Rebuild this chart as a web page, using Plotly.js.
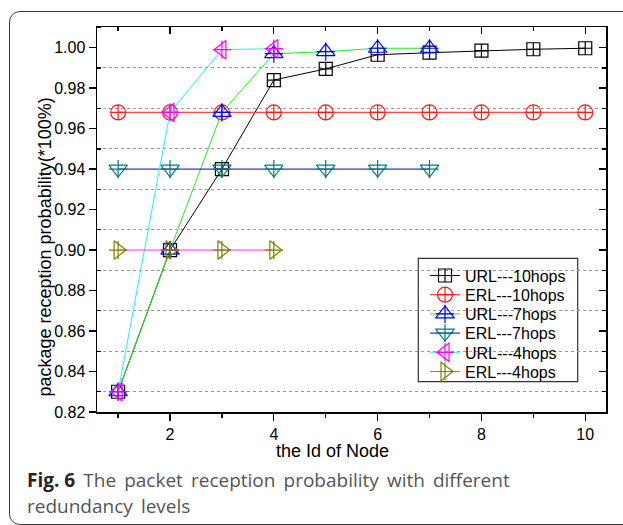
<!DOCTYPE html>
<html>
<head>
<meta charset="utf-8">
<script src="https://cdn.plot.ly/plotly-3.0.1.min.js"></script>
<style>
  html, body { margin: 0; padding: 0; background: #fff; }
  #wrap { position: relative; width: 623px; height: 525px; overflow: hidden; }
  #chart { position: absolute; left: 0; top: 0; width: 623px; height: 525px; }
  #frame {
    position: absolute; left: 9px; top: 11px; width: 640px; height: 512px;
    border: 1.6px solid #3a3a3a; border-radius: 11px; pointer-events: none;
  }
</style>
</head>
<body>
<div id="wrap">
  <div id="chart"></div>
  <div id="frame"></div>
</div>
<script>
// Node ids along the x axis
const nodeIds = [1, 2, 3, 4, 5, 6, 7, 8, 9, 10];

// Packet reception probability per node
const url10 = [0.830, 0.900, 0.940, 0.984, 0.9895, 0.9965, 0.9975, 0.9985, 0.9992, 0.9997];
const erl10 = [0.968, 0.968, 0.968, 0.968, 0.968, 0.968, 0.968, 0.968, 0.968, 0.968];
const url7  = [0.830, 0.900, 0.968, 0.997, 0.998, 0.9997, 0.9997];
const erl7  = [0.940, 0.940, 0.940, 0.940, 0.940, 0.940, 0.940];
const url4  = [0.830, 0.968, 0.999, 0.9995];
const erl4  = [0.900, 0.900, 0.900, 0.900];

const seriesNames = ['URL---10hops', 'ERL---10hops', 'URL---7hops', 'ERL---7hops', 'URL---4hops', 'ERL---4hops'];

const yTickVals = [0.82, 0.84, 0.86, 0.88, 0.90, 0.92, 0.94, 0.96, 0.98, 1.00];
const xTickVals = [2, 4, 6, 8, 10];

// Page geometry (pixels)
const W = 623, H = 525;
const M = { l: 97, r: 17, t: 27, b: 113 };
const PW = W - M.l - M.r, PH = H - M.t - M.b;
const px = p => (p - M.l) / PW;
const py = p => (M.t + PH - p) / PH;

const FONT = 'Liberation Sans, Arial, sans-serif';
const CAPTION_FONT = 'Open Sans, Noto Sans, sans-serif';

// style per series: line colour, marker colour, symbol, size, needs an extra cross
const styles = [
  { line: '#000000', mk: '#000000', sym: 'square-cross-open',   size: 13, cross: false },
  { line: '#ff4a4a', mk: '#ff1a1a', sym: 'circle-cross-open',   size: 15, cross: false },
  { line: '#22ee22', mk: '#0000ff', sym: 'triangle-up-open',    size: 16, cross: true },
  { line: '#0000cc', mk: '#008080', sym: 'triangle-down-open',  size: 16, cross: true },
  { line: '#22f0f0', mk: '#ff00ff', sym: 'triangle-left-open',  size: 16, cross: true },
  { line: '#ff33ff', mk: '#808000', sym: 'triangle-right-open', size: 16, cross: true }
];
const seriesY = [url10, erl10, url7, erl7, url4, erl4];

// legend rows (pixel centre of each row)
const legendRowY = [275.6, 294.8, 314.0, 333.2, 352.4, 371.6];
const legendX = 425;

const traces = [];
const layoutLegends = {};
let crossLegendIdx = 7;

seriesY.forEach((ys, i) => {
  const st = styles[i];
  const xs = nodeIds.slice(0, ys.length);
  const lgName = i === 0 ? 'legend' : 'legend' + (i + 1);
  traces.push({
    type: 'scatter', mode: 'lines+markers', name: seriesNames[i],
    x: xs, y: ys, legend: lgName,
    line: { color: st.line, width: i === 1 ? 1.3 : 1 },
    marker: { symbol: st.sym, size: st.size, color: st.mk, line: { width: 1.2, color: st.mk } }
  });
  layoutLegends[lgName] = {
    x: px(legendX), y: py(legendRowY[i]), xanchor: 'left', yanchor: 'middle',
    bgcolor: 'rgba(0,0,0,0)', borderwidth: 0,
    font: { family: FONT, size: 16, color: '#000' }
  };
  if (st.cross) {
    const cl = 'legend' + crossLegendIdx++;
    traces.push({
      type: 'scatter', mode: 'markers', name: seriesNames[i],
      x: xs, y: ys, legend: cl,
      marker: { symbol: 'cross-thin-open', size: 13, color: st.mk, line: { width: 1.2, color: st.mk } }
    });
    layoutLegends[cl] = {
      x: px(legendX), y: py(legendRowY[i]), xanchor: 'left', yanchor: 'middle',
      bgcolor: 'rgba(0,0,0,0)', borderwidth: 0,
      font: { family: FONT, size: 16, color: 'rgba(0,0,0,0)' }
    };
  }
});

// carrier for the mirrored top / right axes
traces.push({ type: 'scatter', mode: 'markers', x: [null], y: [null], xaxis: 'x2', yaxis: 'y2',
  showlegend: false, hoverinfo: 'skip' });

const xRange = [0.593, 10.40];
const yRange = [0.82, 1.0102];

const axisCommon = {
  showline: true, linecolor: '#000', linewidth: 1.5, zeroline: false, showgrid: false,
  tickcolor: '#000', tickwidth: 1.3, ticklen: 7,
  tickfont: { family: FONT, size: 16, color: '#000' }
};

// widen the word gaps of the caption a little
const wide = s => s.split(' ').join(' \u2009');

const layout = Object.assign({
  width: W, height: H, margin: M,
  paper_bgcolor: '#fff', plot_bgcolor: '#fff',
  showlegend: true,
  xaxis: Object.assign({}, axisCommon, {
    range: xRange, tickmode: 'array', tickvals: xTickVals, ticks: 'outside',
    minor: { dtick: 1, tick0: 0, ticks: 'outside', ticklen: 4, tickcolor: '#000', tickwidth: 1.3, showgrid: false }
  }),
  yaxis: Object.assign({}, axisCommon, {
    range: yRange, tickmode: 'array', tickvals: yTickVals, tickformat: '.2f', ticks: 'outside',
    minor: { dtick: 0.02, tick0: 0.83, ticks: 'inside', ticklen: 4, tickcolor: '#000', tickwidth: 1.3,
      showgrid: true, gridcolor: '#9a9a9a', griddash: 'dot', gridwidth: 1 }
  }),
  xaxis2: Object.assign({}, axisCommon, {
    range: xRange, overlaying: 'x', side: 'top', anchor: 'y2', tickmode: 'array', tickvals: xTickVals,
    ticks: 'inside', showticklabels: false,
    minor: { dtick: 1, tick0: 0, ticks: 'inside', ticklen: 4, tickcolor: '#000', tickwidth: 1.3, showgrid: false }
  }),
  yaxis2: Object.assign({}, axisCommon, {
    range: yRange, overlaying: 'y', side: 'right', anchor: 'x2', tickmode: 'array', tickvals: yTickVals,
    ticks: 'inside', showticklabels: false,
    minor: { dtick: 0.02, tick0: 0.83, ticks: 'inside', ticklen: 4, tickcolor: '#000', tickwidth: 1.3, showgrid: false }
  }),
  shapes: [
    // legend box
    { type: 'rect', xref: 'paper', yref: 'paper', x0: px(418.3), x1: px(577.7), y0: py(381.7), y1: py(258.3),
      line: { color: '#333', width: 1.2 }, fillcolor: 'rgba(0,0,0,0)', layer: 'below' }
  ],
  annotations: [
    { text: 'the Id of Node', xref: 'paper', yref: 'paper', x: px(332.5), y: py(451),
      xanchor: 'center', yanchor: 'middle', showarrow: false,
      font: { family: FONT, size: 18, color: '#000' } },
    { text: 'package reception probability(*100%)', xref: 'paper', yref: 'paper', x: px(44.5), y: py(247),
      xanchor: 'center', yanchor: 'middle', textangle: -90, showarrow: false,
      font: { family: FONT, size: 18, color: '#000' } },
    { text: '<b style="color:#262626">Fig. 6</b>' + wide(' The packet reception probability with different'),
      xref: 'paper', yref: 'paper', x: px(25), y: py(480), xanchor: 'left', yanchor: 'middle', showarrow: false,
      font: { family: CAPTION_FONT, size: 19, color: '#555' } },
    { text: wide('redundancy levels'),
      xref: 'paper', yref: 'paper', x: px(25), y: py(506), xanchor: 'left', yanchor: 'middle', showarrow: false,
      font: { family: CAPTION_FONT, size: 19, color: '#555' } }
  ]
}, layoutLegends);

Plotly.newPlot('chart', traces, layout, { displayModeBar: false, staticPlot: true });
</script>
</body>
</html>
